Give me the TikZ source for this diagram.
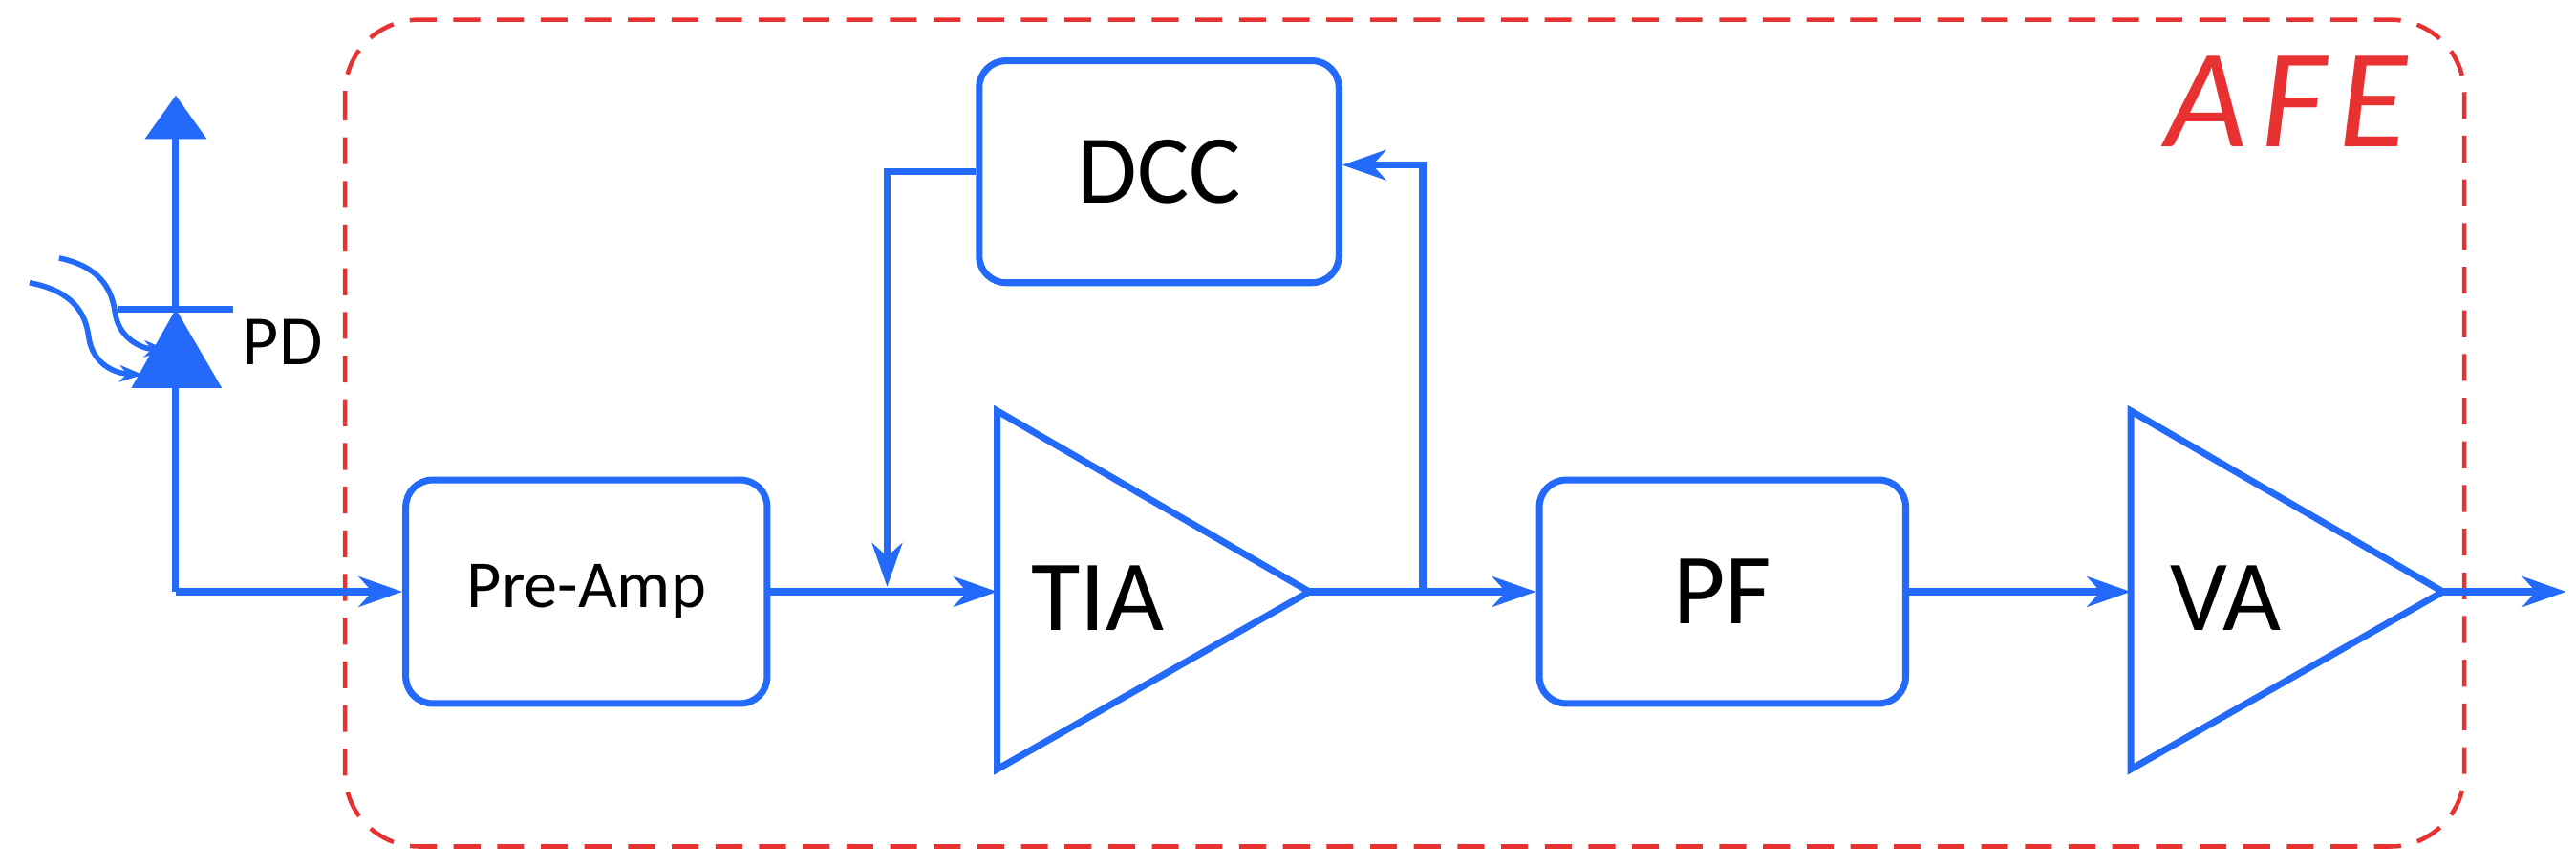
\documentclass[tikz,border=0pt]{standalone}
\usepackage{fontspec}
\setmainfont{Carlito}
\usetikzlibrary{arrows.meta}
\definecolor{bl}{RGB}{35,105,250}
\definecolor{rd}{RGB}{232,50,50}
\begin{document}
\begin{tikzpicture}[x=0.0172cm,y=-0.0172cm,
  wire/.style={bl,line width=2pt},
  arr/.style={wire,-{Stealth[length=13pt,width=9pt,inset=4pt]}},
  blk/.style={draw=bl,line width=2pt,rounded corners=8pt,inner sep=0pt},
  lbl/.style={font=\fontsize{30}{30}\selectfont}]
\useasboundingbox (0,0) rectangle (1568,528);
% AFE frame
\draw[rd,line width=1.3pt,dash pattern=on 8pt off 5pt,rounded corners=22pt] (210,12) rectangle (1500,515);
\node[rd,font=\fontsize{42}{42}\itshape] (afe) at (1392,62) {A\kern4pt F\kern4pt E};
% blocks
\node[blk,minimum width=220*0.0172cm,minimum height=136*0.0172cm,font=\fontsize{20}{20}\selectfont] (pre) at (357,360) {Pre-Amp};
\node[blk,minimum width=219*0.0172cm,minimum height=135*0.0172cm,font=\fontsize{29}{29}\selectfont] (dcc) at (705.5,104.5) {DCC};
\node[blk,minimum width=223*0.0172cm,minimum height=136*0.0172cm,lbl] (pf) at (1048.5,360) {PF};
% triangles
\draw[wire,line join=miter] (607,250) -- (797,360) -- (607,468) -- cycle;
\coordinate (tiaL) at (607,360); \coordinate (tiaR) at (797,360);
\node[lbl] (tia) at (668,364) {TIA};
\draw[wire,line join=miter] (1297,250) -- (1487,360) -- (1297,468) -- cycle;
\coordinate (vaL) at (1297,360); \coordinate (vaR) at (1487,360);
\node[lbl] (va) at (1355,364) {VA};
\coordinate (out) at (1562,360);
% PD
\coordinate (pdtop) at (107,58);
\coordinate (pdbar) at (107,188);
\coordinate (pdbot) at (107,360);
\draw[wire,-{Triangle[length=13pt,width=18pt]}] (pdbar) -- (pdtop);
\draw[wire] (72,188) -- (142,188);
\fill[bl] (pdbar) -- (135,236) -- (80,236) -- cycle;
\draw[wire] (107,236) -- (pdbot);
\node[font=\fontsize{21}{21}\selectfont] (pd) at (172,208) {PD};
\draw[bl,line width=1.6pt,-{Stealth[length=7pt,width=5pt]}] (36,157) .. controls (60,162) and (68,175) .. (70,190) .. controls (72,205) and (85,212) .. (102,213);
\draw[bl,line width=1.6pt,-{Stealth[length=7pt,width=5pt]}] (18,172) .. controls (44,177) and (52,190) .. (54,205) .. controls (56,220) and (68,227) .. (87,228);
% signal path
\draw[arr] (pdbot) -- (pre.west);
\draw[arr] (pre.east) -- (tiaL);
\draw[arr] (tiaR) -- (pf.west);
\draw[arr] (pf.east) -- (vaL);
\draw[arr] (vaR) -- (out);
% feedback
\coordinate (fb1) at (540,357);
\coordinate (fb2) at (866,360);
\draw[arr] (dcc.west) -| (fb1);
\draw[arr] (fb2) |- ([yshift=2pt]dcc.east);
\end{tikzpicture}
\end{document}
